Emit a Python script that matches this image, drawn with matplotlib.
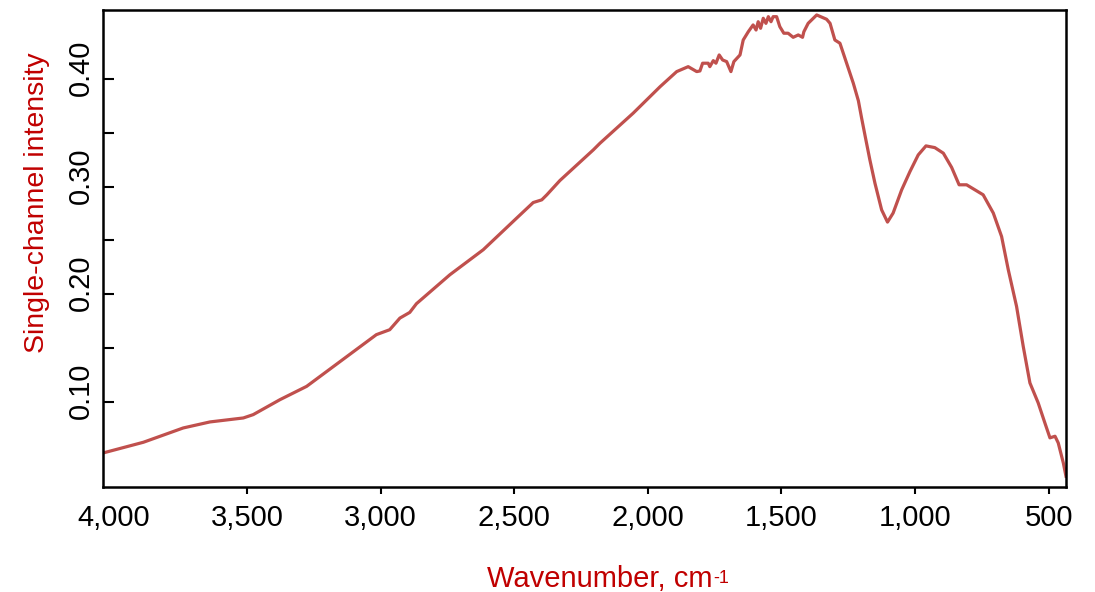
import matplotlib.pyplot as plt
from matplotlib.ticker import FuncFormatter, FixedLocator
from matplotlib.transforms import ScaledTranslation

plt.rcParams['font.family'] = ['Liberation Sans', 'DejaVu Sans']

wavenumber = [4038, 3888, 3739, 3639, 3514, 3477, 3377, 3277, 3016, 2966,
              2928, 2891, 2866, 2741, 2616, 2491, 2429, 2397, 2378, 2329,
              2204, 2179, 2055, 1954, 1892, 1849, 1817, 1805, 1795, 1774,
              1768, 1755, 1745, 1733, 1720, 1705, 1689, 1678, 1655, 1643,
              1624, 1606, 1595, 1587, 1578, 1568, 1558, 1549, 1539, 1531,
              1518, 1506, 1491, 1475, 1456, 1437, 1421, 1416, 1400, 1368,
              1331, 1318, 1300, 1281, 1256, 1231, 1212, 1200, 1185, 1169,
              1150, 1125, 1103, 1082, 1050, 1019, 988, 959, 926, 894,
              863, 835, 807, 745, 707, 676, 651, 620, 595, 570,
              539, 514, 495, 476, 464, 445, 435]
intensity = [0.0524, 0.0623, 0.0756, 0.0812, 0.0849, 0.0880, 0.1019, 0.1143, 0.1624, 0.1670,
             0.1778, 0.1831, 0.1912, 0.2181, 0.2414, 0.2708, 0.2853, 0.2878, 0.2925, 0.3058,
             0.3343, 0.3405, 0.3684, 0.3931, 0.4071, 0.4117, 0.4071, 0.4077, 0.4149, 0.4149,
             0.4117, 0.4173, 0.4149, 0.4226, 0.4179, 0.4164, 0.4071, 0.4164, 0.4226, 0.4365,
             0.4442, 0.4505, 0.4458, 0.4535, 0.4474, 0.4567, 0.4520, 0.4582, 0.4535, 0.4582,
             0.4582, 0.4489, 0.4428, 0.4428, 0.4390, 0.4412, 0.4390, 0.4442, 0.4520, 0.4598,
             0.4558, 0.4520, 0.4365, 0.4335, 0.4149, 0.3963, 0.3800, 0.3640, 0.3450, 0.3250,
             0.3033, 0.2785, 0.2671, 0.2755, 0.2971, 0.3141, 0.3296, 0.3380, 0.3364, 0.3312,
             0.3180, 0.3018, 0.3018, 0.2925, 0.2755, 0.2537, 0.2228, 0.1887, 0.1515, 0.1175,
             0.0989, 0.0803, 0.0664, 0.0679, 0.0617, 0.0431, 0.0307]

x_ticks = [4000, 3500, 3000, 2500, 2000, 1500, 1000, 500]
y_major = [0.10, 0.20, 0.30, 0.40]
y_minor = [0.15, 0.25, 0.35]
label_red = '#c00000'
fs = 21

fig = plt.figure(figsize=(10.95, 5.92), dpi=100)
ax = fig.add_axes([0.0941, 0.1774, 0.8794, 0.8057])

ax.plot(wavenumber, intensity, color='#c0504d', lw=2.3)

ax.set_xlim(4039, 435)
ax.set_ylim(0.0207, 0.4644)

ax.set_xticks(x_ticks)
ax.xaxis.set_major_formatter(FuncFormatter(lambda v, p: f'{int(v):,}'))
ax.yaxis.set_major_locator(FixedLocator(y_major))
ax.yaxis.set_minor_locator(FixedLocator(y_minor))
ax.yaxis.set_major_formatter(FuncFormatter(lambda v, p: f'{v:.2f}'))

ax.tick_params(axis='x', direction='out', length=5, width=1.5, labelsize=fs, pad=7)
ax.tick_params(axis='y', which='both', direction='in', length=8, width=1.5, labelsize=fs, pad=6)
# y labels are vertical and sit a little above their ticks
lift = ScaledTranslation(0, 11 / 100, fig.dpi_scale_trans)
for lbl in ax.get_yticklabels():
    lbl.set_rotation(90)
    lbl.set_va('center')
    lbl.set_transform(lbl.get_transform() + lift)
# the 4,000 label sits on the axis edge without a tick mark
ax.xaxis.get_major_ticks()[0].tick1line.set_visible(False)

for s in ax.spines.values():
    s.set_linewidth(1.8)

xl = ax.set_xlabel('Wavenumber, cm', color=label_red, fontsize=fs)
ax.xaxis.set_label_coords(0.516, -0.163)
ax.annotate('-1', xy=(1, 1), xycoords=xl, xytext=(0.5, -4), textcoords='offset points',
            ha='left', va='top', color=label_red, fontsize=13)
ax.set_ylabel('Single-channel intensity', color=label_red, fontsize=20.5)
ax.yaxis.set_label_coords(-0.055, 0.595)

fig.savefig('out.png', dpi=100)
